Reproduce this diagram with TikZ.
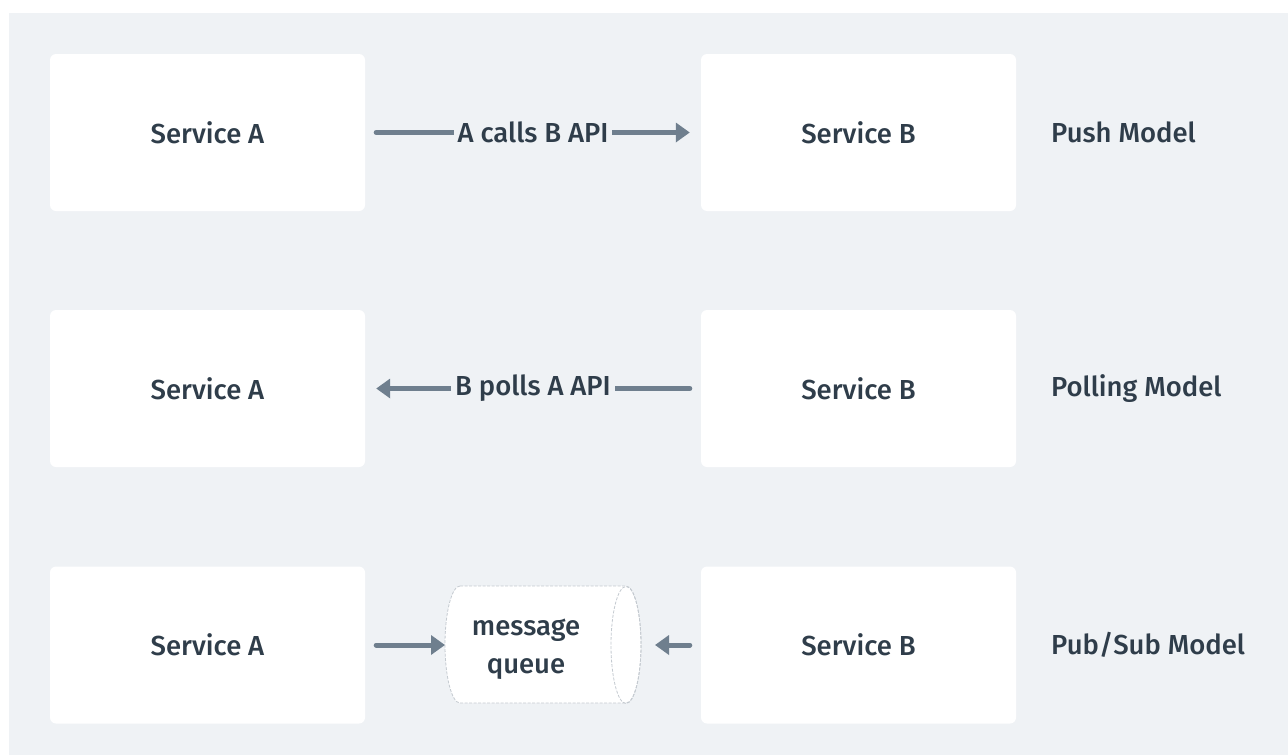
\documentclass[tikz,border=0pt]{standalone}
\usepackage{fontspec}
\setmainfont{Fira Sans Medium}
\usetikzlibrary{arrows.meta}
\definecolor{bgc}{HTML}{EFF2F5}
\definecolor{txtc}{HTML}{2F3D4A}
\definecolor{arrc}{HTML}{6F7F8E}
\definecolor{qline}{HTML}{C4CAD0}
\begin{document}
\begin{tikzpicture}[x=1pt,y=-1pt,
  font=\fontsize{27.5}{38}\selectfont,
  svcbox/.style={fill=white, rounded corners=6pt, minimum width=315pt, minimum height=157pt, inner sep=0pt, text=txtc},
  modellabel/.style={anchor=west, inner sep=0pt, text=txtc},
  conn/.style={draw=arrc, line width=5pt, line cap=round, -{Triangle[length=14pt,width=19pt]}},
  connlabel/.style={fill=bgc, text=txtc, inner xsep=4pt, inner ysep=2pt}]
\useasboundingbox (0,0) rectangle (1288,755);
\fill[bgc] (9,13) rectangle (1288,755);
% row 1
\node[svcbox] (a1) at (207.5,132.5) {Service A};
\node[svcbox] (b1) at (858.5,132.5) {Service B};
\node[modellabel] (m1) at (1051,132.5) {Push Model};
\draw[conn, shorten <=11pt, shorten >=11pt] (a1) -- node[connlabel] (l1) {A calls B API} (b1);
% row 2
\node[svcbox] (a2) at (207.5,388.5) {Service A};
\node[svcbox] (b2) at (858.5,388.5) {Service B};
\node[modellabel] (m2) at (1051,388.5) {Polling Model};
\draw[conn, shorten <=11pt, shorten >=11pt] (b2) -- node[connlabel] (l2) {B polls A API} (a2);
% row 3
\node[svcbox] (a3) at (207.5,645) {Service A};
\node[svcbox] (b3) at (858.5,645) {Service B};
\node[modellabel] (m3) at (1051,645) {Pub/Sub Model};
\fill[white] (460,586) -- (626,586) arc(-90:90:15 and 58.5) -- (460,703) arc(90:270:15 and 58.5) -- cycle;
\draw[qline, dashed, dash pattern=on 3pt off 1.5pt, line width=0.8pt] (460,586) -- (626,586) arc(-90:90:15 and 58.5) -- (460,703) arc(90:270:15 and 58.5) -- cycle;
\draw[qline, dashed, dash pattern=on 3pt off 1.5pt, line width=0.8pt] (626,645) ellipse (15 and 58.5);
\node[text=txtc, align=center, inner sep=0pt] (q) at (526,649) {message\\queue};
\coordinate (qw) at (445,645);
\coordinate (qe) at (641,645);
\draw[conn, shorten <=11pt] (a3) -- (qw);
\draw[conn, shorten <=11pt, shorten >=14pt] (b3) -- (qe);
\end{tikzpicture}
\end{document}
